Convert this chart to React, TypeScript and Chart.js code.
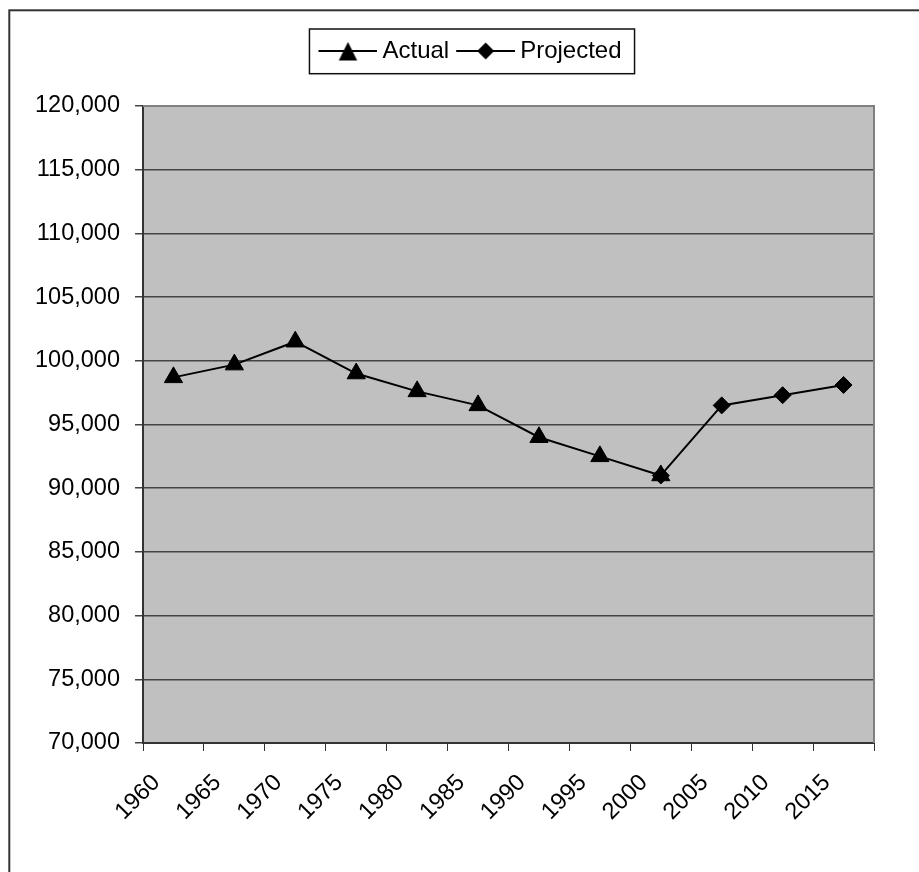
import React, { useEffect, useRef } from "react";
import { Chart, registerables } from "chart.js";

Chart.register(...registerables);

const categories = ["1960", "1965", "1970", "1975", "1980", "1985", "1990", "1995", "2000", "2005", "2010", "2015"];
const actualValues = [98700, 99700, 101500, 99000, 97600, 96500, 94000, 92500, 91000, null, null, null];
const projectedValues = [null, null, null, null, null, null, null, null, 91000, 96500, 97300, 98100];
const seriesLabels = ["Actual", "Projected"];
const yTickMin = 70000;
const yTickMax = 120000;
const yTickStep = 5000;

const FONT = "'Liberation Sans', Arial, Helvetica, sans-serif";

function legendSwatch(kind: "triangle" | "diamond") {
  const c = document.createElement("canvas");
  c.width = 69;
  c.height = 48;
  const ctx = c.getContext("2d")!;
  const lineY = 24;
  const cx = 39.5;
  ctx.strokeStyle = "#000";
  ctx.lineWidth = 2;
  ctx.beginPath();
  ctx.moveTo(10, lineY);
  ctx.lineTo(69, lineY);
  ctx.stroke();
  ctx.fillStyle = "#000";
  ctx.beginPath();
  if (kind === "triangle") {
    ctx.moveTo(cx, lineY - 9);
    ctx.lineTo(cx + 9.2, lineY + 9.5);
    ctx.lineTo(cx - 9.2, lineY + 9.5);
  } else {
    ctx.moveTo(cx, lineY - 8.5);
    ctx.lineTo(cx + 8.5, lineY);
    ctx.lineTo(cx, lineY + 8.5);
    ctx.lineTo(cx - 8.5, lineY);
  }
  ctx.closePath();
  ctx.fill();
  return c;
}

const framePlugin = {
  id: "frame",
  beforeLayout(chart: any) {
    const lg = chart.legend;
    if (lg && !lg.__patched) {
      const orig = lg.fit;
      lg.fit = function () {
        orig.call(this);
        if (this.options.display) this.height += 33;
      };
      lg.__patched = true;
    }
  },
  beforeDraw(chart: any) {
    const { ctx, chartArea: a, width, height } = chart;
    ctx.save();
    ctx.strokeStyle = "#333";
    ctx.lineWidth = 2;
    ctx.strokeRect(1.3, 2.3, width + 20, height + 20);
    ctx.fillStyle = "#C0C0C0";
    ctx.fillRect(a.left, a.top, a.right - a.left, a.bottom - a.top);
    ctx.restore();
  },
  beforeDatasetsDraw(chart: any) {
    const { ctx, chartArea: a } = chart;
    ctx.save();
    ctx.strokeStyle = "#808080";
    ctx.lineWidth = 2;
    ctx.beginPath();
    ctx.moveTo(a.left, a.top);
    ctx.lineTo(a.right, a.top);
    ctx.lineTo(a.right, a.bottom);
    ctx.stroke();
    ctx.restore();
  },
  afterDraw(chart: any) {
    const lg = chart.legend;
    if (!lg || !lg.legendHitBoxes || !lg.legendHitBoxes.length) return;
    const hb = lg.legendHitBoxes;
    const first = hb[0];
    const last = hb[hb.length - 1];
    const left = first.left - 6;
    const right = last.left + last.width + 13;
    const top = first.top - 10;
    const bottom = first.top + 34.7;
    const ctx = chart.ctx;
    ctx.save();
    ctx.strokeStyle = "#111";
    ctx.lineWidth = 1.5;
    ctx.strokeRect(left, top, right - left, bottom - top);
    ctx.restore();
  },
};

export default function App() {
  const ref = useRef<HTMLCanvasElement | null>(null);

  useEffect(() => {
    if (!ref.current) return;
    const swatches = [legendSwatch("triangle"), legendSwatch("diamond")];
    const chart = new Chart(ref.current, {
      type: "line",
      data: {
        labels: categories,
        datasets: [
          {
            label: seriesLabels[0],
            data: actualValues,
            borderColor: "#000",
            backgroundColor: "#000",
            borderWidth: 2,
            pointStyle: "triangle",
            pointRadius: 10.5,
            pointHoverRadius: 10.5,
            pointBorderWidth: 1,
            tension: 0,
          },
          {
            label: seriesLabels[1],
            data: projectedValues,
            borderColor: "#000",
            backgroundColor: "#000",
            borderWidth: 2,
            pointStyle: "rectRot",
            pointRadius: 8.5,
            pointHoverRadius: 8.5,
            pointBorderWidth: 1,
            tension: 0,
          },
        ],
      },
      options: {
        responsive: false,
        animation: false,
        layout: { padding: { top: 27, left: 10, right: 0, bottom: 0 } },
        plugins: {
          tooltip: { enabled: false },
          legend: {
            display: true,
            position: "top",
            align: "center",
            labels: {
              usePointStyle: true,
              pointStyleWidth: 55,
              boxHeight: 24,
              padding: 4,
              color: "#000",
              font: { family: FONT, size: 24 },
              generateLabels: () =>
                seriesLabels.map((t, i) => ({
                  text: t,
                  pointStyle: swatches[i] as any,
                  fillStyle: "#000",
                  strokeStyle: "#000",
                  lineWidth: 0,
                  hidden: false,
                  datasetIndex: i,
                  fontColor: "#000",
                })),
            },
          },
        },
        scales: {
          x: {
            offset: true,
            afterFit: (s: any) => {
              s.height = 129;
              s.paddingRight = 45;
            },
            ticks: {
              autoSkip: false,
              maxRotation: 45,
              minRotation: 45,
              labelOffset: -17,
              padding: 18,
              color: "#000",
              font: { family: FONT, size: 23.5 },
            },
            grid: {
              offset: true,
              drawOnChartArea: false,
              drawTicks: true,
              tickLength: 8,
              color: "#333",
              lineWidth: 1,
            },
            border: { display: true, color: "#333", width: 2 },
          },
          y: {
            min: yTickMin,
            max: yTickMax,
            afterFit: (s: any) => {
              s.width = 125;
            },
            ticks: {
              stepSize: yTickStep,
              padding: 15,
              color: "#000",
              font: { family: FONT, size: 23.5 },
              callback: (v: any) => Number(v).toLocaleString("en-US"),
            },
            grid: { color: "#444", lineWidth: 1.5, tickLength: 8, drawTicks: true },
            border: { display: true, color: "#333", width: 2 },
          },
        },
      },
      plugins: [framePlugin],
    } as any);
    return () => chart.destroy();
  }, []);

  return (
    <canvas
      ref={ref}
      width={911}
      height={864}
      style={{ display: "block", position: "absolute", left: 8, top: 8 }}
    />
  );
}
